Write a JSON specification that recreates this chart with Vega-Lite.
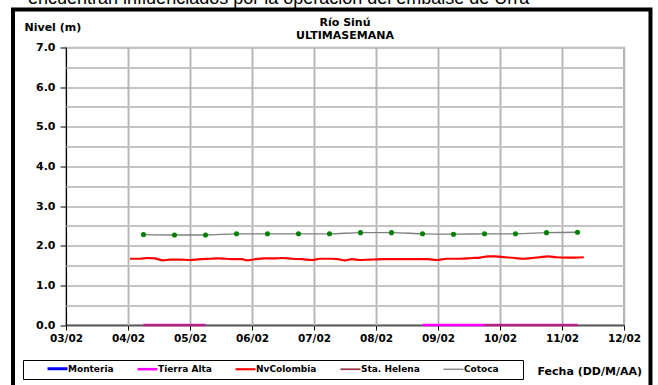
{
  "$schema": "https://vega.github.io/schema/vega-lite/v6.json",
  "width": 558,
  "height": 277.5,
  "autosize": {"type": "none"},
  "padding": {"left": 66, "top": 47.5, "right": 34, "bottom": 60},
  "background": "white",
  "config": {
    "view": {"stroke": "#9a9a9a", "strokeWidth": 1.5},
    "font": "DejaVu Sans"
  },
  "title": {
    "text": ["Río Sinú", "ULTIMASEMANA"],
    "font": "DejaVu Sans",
    "fontSize": 11,
    "fontWeight": "bold",
    "color": "black",
    "anchor": "middle",
    "frame": "group",
    "lineHeight": 12.5,
    "offset": 0,
    "dy": 51
  },
  "resolve": {"axis": {"x": "independent", "y": "independent"}},
  "datasets": {
    "series": [
      {"s": "Tierra Alta", "g": "a", "t": "2012-02-04T06:00", "v": 0},
      {"s": "Tierra Alta", "g": "a", "t": "2012-02-04T18:00", "v": 0},
      {"s": "Tierra Alta", "g": "a", "t": "2012-02-05T06:00", "v": 0},
      {"s": "Tierra Alta", "g": "b", "t": "2012-02-08T18:00", "v": 0},
      {"s": "Tierra Alta", "g": "b", "t": "2012-02-09T06:00", "v": 0},
      {"s": "Tierra Alta", "g": "b", "t": "2012-02-09T18:00", "v": 0},
      {"s": "Tierra Alta", "g": "b", "t": "2012-02-10T06:00", "v": 0},
      {"s": "Tierra Alta", "g": "b", "t": "2012-02-10T18:00", "v": 0},
      {"s": "Tierra Alta", "g": "b", "t": "2012-02-11T06:00", "v": 0},
      {"s": "Sta. Helena", "g": "a", "t": "2012-02-04T06:00", "v": 0},
      {"s": "Sta. Helena", "g": "a", "t": "2012-02-04T18:00", "v": 0},
      {"s": "Sta. Helena", "g": "a", "t": "2012-02-05T06:00", "v": 0},
      {"s": "Sta. Helena", "g": "b", "t": "2012-02-09T18:00", "v": 0},
      {"s": "Sta. Helena", "g": "b", "t": "2012-02-10T06:00", "v": 0},
      {"s": "Sta. Helena", "g": "b", "t": "2012-02-10T18:00", "v": 0},
      {"s": "Sta. Helena", "g": "b", "t": "2012-02-11T06:00", "v": 0},
      {"s": "NvColombia", "g": "a", "t": "2012-02-04T00:46", "v": 1.67},
      {"s": "NvColombia", "g": "a", "t": "2012-02-04T04:38", "v": 1.67},
      {"s": "NvColombia", "g": "a", "t": "2012-02-04T07:21", "v": 1.69},
      {"s": "NvColombia", "g": "a", "t": "2012-02-04T10:26", "v": 1.68},
      {"s": "NvColombia", "g": "a", "t": "2012-02-04T13:33", "v": 1.63},
      {"s": "NvColombia", "g": "a", "t": "2012-02-04T16:15", "v": 1.65},
      {"s": "NvColombia", "g": "a", "t": "2012-02-04T20:08", "v": 1.65},
      {"s": "NvColombia", "g": "a", "t": "2012-02-05T00:00", "v": 1.64},
      {"s": "NvColombia", "g": "a", "t": "2012-02-05T03:52", "v": 1.66},
      {"s": "NvColombia", "g": "a", "t": "2012-02-05T07:44", "v": 1.67},
      {"s": "NvColombia", "g": "a", "t": "2012-02-05T10:50", "v": 1.68},
      {"s": "NvColombia", "g": "a", "t": "2012-02-05T13:56", "v": 1.67},
      {"s": "NvColombia", "g": "a", "t": "2012-02-05T17:25", "v": 1.66},
      {"s": "NvColombia", "g": "a", "t": "2012-02-05T20:08", "v": 1.66},
      {"s": "NvColombia", "g": "a", "t": "2012-02-05T22:04", "v": 1.63},
      {"s": "NvColombia", "g": "a", "t": "2012-02-06T01:10", "v": 1.66},
      {"s": "NvColombia", "g": "a", "t": "2012-02-06T05:02", "v": 1.68},
      {"s": "NvColombia", "g": "a", "t": "2012-02-06T08:54", "v": 1.68},
      {"s": "NvColombia", "g": "a", "t": "2012-02-06T11:37", "v": 1.69},
      {"s": "NvColombia", "g": "a", "t": "2012-02-06T15:29", "v": 1.67},
      {"s": "NvColombia", "g": "a", "t": "2012-02-06T19:21", "v": 1.66},
      {"s": "NvColombia", "g": "a", "t": "2012-02-06T23:14", "v": 1.64},
      {"s": "NvColombia", "g": "a", "t": "2012-02-07T02:20", "v": 1.67},
      {"s": "NvColombia", "g": "a", "t": "2012-02-07T07:00", "v": 1.67},
      {"s": "NvColombia", "g": "a", "t": "2012-02-07T09:17", "v": 1.66},
      {"s": "NvColombia", "g": "a", "t": "2012-02-07T12:00", "v": 1.63},
      {"s": "NvColombia", "g": "a", "t": "2012-02-07T14:42", "v": 1.66},
      {"s": "NvColombia", "g": "a", "t": "2012-02-07T17:48", "v": 1.64},
      {"s": "NvColombia", "g": "a", "t": "2012-02-07T21:40", "v": 1.65},
      {"s": "NvColombia", "g": "a", "t": "2012-02-08T03:29", "v": 1.66},
      {"s": "NvColombia", "g": "a", "t": "2012-02-08T09:17", "v": 1.66},
      {"s": "NvColombia", "g": "a", "t": "2012-02-08T15:06", "v": 1.66},
      {"s": "NvColombia", "g": "a", "t": "2012-02-08T20:08", "v": 1.66},
      {"s": "NvColombia", "g": "a", "t": "2012-02-08T23:34", "v": 1.64},
      {"s": "NvColombia", "g": "a", "t": "2012-02-09T03:26", "v": 1.67},
      {"s": "NvColombia", "g": "a", "t": "2012-02-09T08:28", "v": 1.67},
      {"s": "NvColombia", "g": "a", "t": "2012-02-09T13:10", "v": 1.69},
      {"s": "NvColombia", "g": "a", "t": "2012-02-09T16:15", "v": 1.70},
      {"s": "NvColombia", "g": "a", "t": "2012-02-09T19:21", "v": 1.73},
      {"s": "NvColombia", "g": "a", "t": "2012-02-09T22:04", "v": 1.73},
      {"s": "NvColombia", "g": "a", "t": "2012-02-10T01:56", "v": 1.71},
      {"s": "NvColombia", "g": "a", "t": "2012-02-10T05:48", "v": 1.69},
      {"s": "NvColombia", "g": "a", "t": "2012-02-10T08:54", "v": 1.67},
      {"s": "NvColombia", "g": "a", "t": "2012-02-10T12:23", "v": 1.69},
      {"s": "NvColombia", "g": "a", "t": "2012-02-10T15:29", "v": 1.71},
      {"s": "NvColombia", "g": "a", "t": "2012-02-10T18:35", "v": 1.73},
      {"s": "NvColombia", "g": "a", "t": "2012-02-10T21:40", "v": 1.71},
      {"s": "NvColombia", "g": "a", "t": "2012-02-11T01:33", "v": 1.70},
      {"s": "NvColombia", "g": "a", "t": "2012-02-11T05:25", "v": 1.70},
      {"s": "NvColombia", "g": "a", "t": "2012-02-11T08:26", "v": 1.71},
      {"s": "Cotoca", "g": "a", "t": "2012-02-04T06:00", "v": 2.28},
      {"s": "Cotoca", "g": "a", "t": "2012-02-04T18:00", "v": 2.27},
      {"s": "Cotoca", "g": "a", "t": "2012-02-05T06:00", "v": 2.27},
      {"s": "Cotoca", "g": "a", "t": "2012-02-05T18:00", "v": 2.30},
      {"s": "Cotoca", "g": "a", "t": "2012-02-06T06:00", "v": 2.30},
      {"s": "Cotoca", "g": "a", "t": "2012-02-06T18:00", "v": 2.30},
      {"s": "Cotoca", "g": "a", "t": "2012-02-07T06:00", "v": 2.30},
      {"s": "Cotoca", "g": "a", "t": "2012-02-07T18:00", "v": 2.33},
      {"s": "Cotoca", "g": "a", "t": "2012-02-08T06:00", "v": 2.33},
      {"s": "Cotoca", "g": "a", "t": "2012-02-08T18:00", "v": 2.30},
      {"s": "Cotoca", "g": "a", "t": "2012-02-09T06:00", "v": 2.29},
      {"s": "Cotoca", "g": "a", "t": "2012-02-09T18:00", "v": 2.30},
      {"s": "Cotoca", "g": "a", "t": "2012-02-10T06:00", "v": 2.30},
      {"s": "Cotoca", "g": "a", "t": "2012-02-10T18:00", "v": 2.33},
      {"s": "Cotoca", "g": "a", "t": "2012-02-11T06:00", "v": 2.34}
    ]
  },
  "layer": [
    {
      "data": {"name": "series"},
      "mark": {"type": "line", "interpolate": "monotone", "clip": false},
      "encoding": {
        "x": {
          "field": "t", "type": "temporal",
          "scale": {"domain": [{"year": 2012, "month": 2, "date": 3}, {"year": 2012, "month": 2, "date": 12}]},
          "axis": {
            "orient": "bottom",
            "tickCount": {"interval": "day", "step": 1},
            "format": "%d/%m",
            "labelFont": "DejaVu Sans", "labelFontWeight": "bold", "labelFontSize": 10.5, "labelColor": "black",
            "labelPadding": 3, "labelFlush": false, "labelOverlap": false,
            "tickSize": 5, "tickColor": "black", "tickWidth": 1,
            "domainColor": "#595959", "domainWidth": 1.5,
            "grid": true, "gridColor": "#b4b4b4", "gridWidth": 1.5,
            "title": "Fecha (DD/M/AA)",
            "titleFont": "DejaVu Sans", "titleFontWeight": "bold", "titleFontSize": 11, "titleColor": "black",
            "titleAlign": "left", "titleBaseline": "alphabetic", "titleAnchor": "start",
            "titleX": 471, "titleY": 49
          }
        },
        "y": {
          "field": "v", "type": "quantitative",
          "scale": {"domain": [0, 7], "nice": false, "zero": false},
          "axis": {
            "orient": "left",
            "tickCount": 7,
            "format": ".1f",
            "labelOverlap": false, "labelFlush": false,
            "labelFont": "DejaVu Sans", "labelFontWeight": "bold", "labelFontSize": 11, "labelColor": "black",
            "labelPadding": 5,
            "tickSize": 6, "tickColor": "black",
            "domainColor": "black", "domainWidth": 1,
            "grid": true, "gridColor": "#c4c4c4", "gridWidth": 2,
            "title": "Nivel (m)",
            "titleFont": "DejaVu Sans", "titleFontWeight": "bold", "titleFontSize": 11, "titleColor": "black",
            "titleAngle": 0, "titleAlign": "left", "titleBaseline": "alphabetic",
            "titleX": -42, "titleY": -17
          }
        },
        "detail": {"field": "g"},
        "color": {
          "field": "s", "type": "nominal",
          "scale": {
            "domain": ["Monteria", "Tierra Alta", "NvColombia", "Sta. Helena", "Cotoca"],
            "range": ["#0000ff", "#ff00ff", "#ff0000", "#993344", "#7f7f7f"]
          },
          "legend": {
            "orient": "none", "legendX": -43, "legendY": 312.5,
            "direction": "horizontal",
            "symbolType": "M-4,0H4", "symbolSize": 25,
            "labelFont": "DejaVu Sans", "labelFontWeight": "bold", "labelFontSize": 9, "labelColor": "black",
            "labelOffset": 6, "symbolOffset": 26, "columnPadding": 3,
            "padding": 4, "strokeColor": "black", "fillColor": "white",
            "title": "\u2002", "titleOrient": "right", "titlePadding": 20, "titleFontSize": 9
          }
        },
        "strokeWidth": {
          "field": "s", "type": "nominal",
          "scale": {
            "domain": ["Monteria", "Tierra Alta", "NvColombia", "Sta. Helena", "Cotoca"],
            "range": [3, 1.3, 3, 1.3, 3]
          }
        }
      }
    },
    {
      "data": {"name": "series"},
      "transform": [{"filter": "datum.s === 'Cotoca'"}],
      "mark": {"type": "point", "filled": true, "color": "#008000", "size": 26, "opacity": 1},
      "encoding": {
        "x": {
          "field": "t", "type": "temporal",
          "axis": {
            "orient": "bottom",
            "values": [
              {"year": 2012, "month": 2, "date": 4}, {"year": 2012, "month": 2, "date": 5},
              {"year": 2012, "month": 2, "date": 6}, {"year": 2012, "month": 2, "date": 7},
              {"year": 2012, "month": 2, "date": 8}, {"year": 2012, "month": 2, "date": 9},
              {"year": 2012, "month": 2, "date": 10}, {"year": 2012, "month": 2, "date": 11}
            ],
            "labels": false, "domain": false, "title": null, "grid": false,
            "tickSize": -277.5, "tickColor": "#b4b4b4", "tickWidth": 1.5
          }
        },
        "y": {
          "field": "v", "type": "quantitative",
          "axis": {
            "orient": "left",
            "values": [0.5, 1.5, 2.5, 3.5, 4.5, 5.5, 6.5],
            "labels": false, "domain": false, "title": null, "grid": true,
            "gridColor": "#c4c4c4", "gridWidth": 2,
            "tickSize": -558, "tickColor": "#c4c4c4", "tickWidth": 2
          }
        }
      }
    },
    {
      "data": {"values": [{"label": "frame"}]},
      "mark": {"type": "rect", "filled": false, "fillOpacity": 0, "stroke": "black", "strokeWidth": 4, "clip": false},
      "encoding": {
        "x": {"datum": {"year": 2012, "month": 2, "date": 2, "hours": 3, "minutes": 29}, "type": "temporal", "axis": null},
        "x2": {"datum": {"year": 2012, "month": 2, "date": 12, "hours": 10, "minutes": 15}},
        "y": {"datum": 7.96, "type": "quantitative", "axis": null},
        "y2": {"datum": -2}
      }
    },
    {
      "data": {"values": [{"txt": "encuentran influenciados por la operación del embalse de Urrá"}]},
      "mark": {"type": "text", "align": "left", "baseline": "alphabetic", "font": "Liberation Sans", "fontSize": 18, "color": "black", "clip": false},
      "encoding": {
        "x": {"datum": {"year": 2012, "month": 2, "date": 2, "hours": 9, "minutes": 18}, "type": "temporal", "axis": null},
        "y": {"datum": 8.1, "type": "quantitative", "axis": null},
        "text": {"field": "txt"}
      }
    }
  ]
}
